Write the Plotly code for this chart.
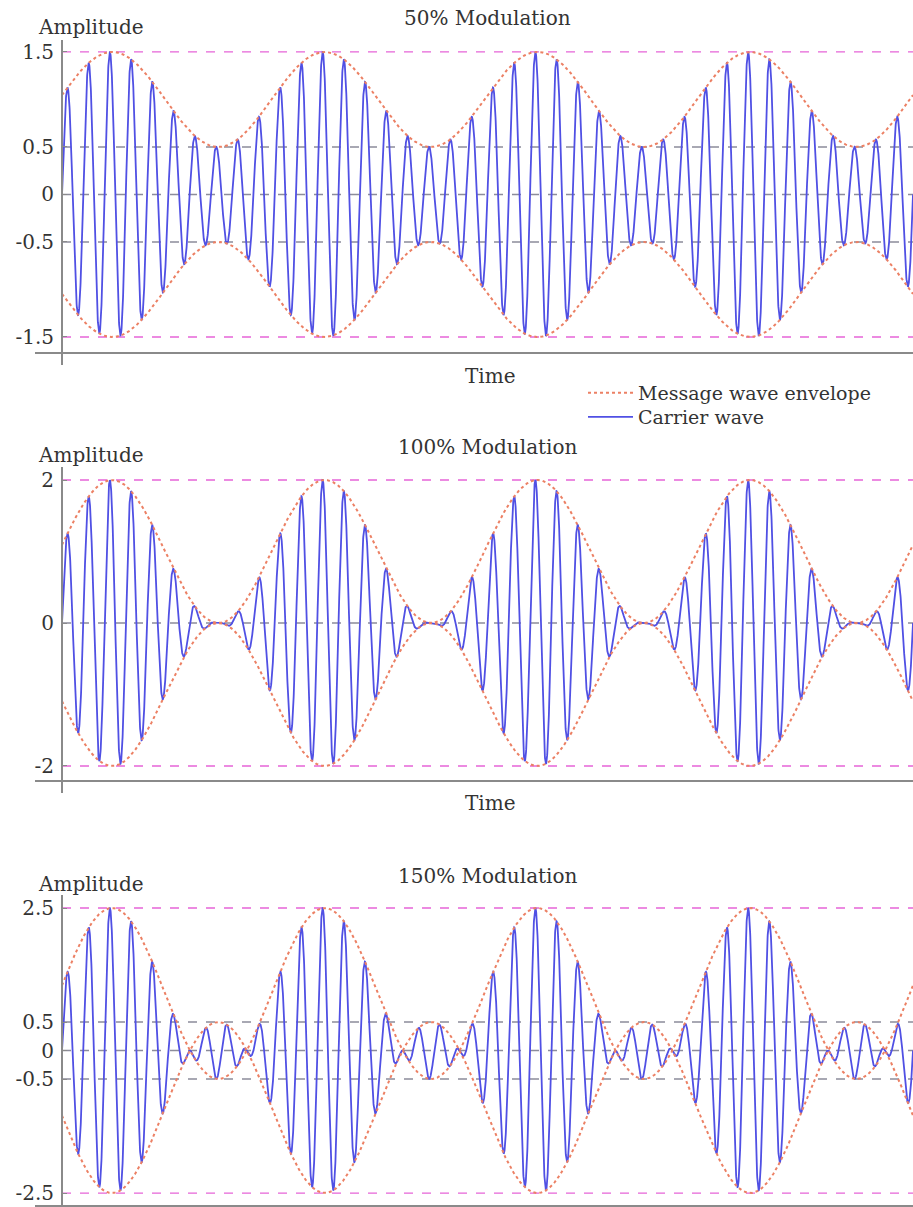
import numpy as np
import plotly.graph_objects as go

# ---- values ----
panel_titles = ["50% Modulation", "100% Modulation", "150% Modulation"]
modulation_depths = [0.5, 1.0, 1.5]          # m of each panel
carrier_cycles_per_message = 10              # carrier periods per message period
visible_carrier_cycles = 40                  # length of the time window (carrier periods)
envelope_peak_time = 2.35                    # first envelope maximum (carrier periods)
ytick_values = [
    [-1.5, -0.5, 0, 0.5, 1.5],
    [-2, 0, 2],
    [-2.5, -0.5, 0, 0.5, 2.5],
]
ytick_labels = [
    ["-1.5", "-0.5", "0", "0.5", "1.5"],
    ["-2", "0", "2"],
    ["-2.5", "-0.5", "0", "0.5", "2.5"],
]
y_ranges = [[-1.658, 1.626], [-2.196, 2.182], [-2.71, 2.728]]

# ---- layout geometry (pixels of the 913x1207 page) ----
W, H = 913, 1207
panel_px = [(40, 352), (467, 780), (895, 1205)]   # top, bottom of each plot area
title_px = [18, 447, 876]
amp_px = [27, 455, 884]
time_px = [376, 803, None]
x_axis_left_px = 35
y_axis_px = 62

def px(x):
    return x / W

def py(y):
    return 1 - y / H

FONT = "DejaVu Serif"
FS = 20
TXT = "#333333"
CARRIER = "rgb(80,80,228)"
ENVELOPE = "rgb(236,128,100)"
PINK = "rgb(230,100,215)"
GRAY = "rgb(140,140,155)"
AXIS = "#8a8a8a"

t = np.linspace(0, visible_carrier_cycles, 6000)
carrier_unit = np.sin(2 * np.pi * t)
msg_phase = 2 * np.pi * (t - envelope_peak_time) / carrier_cycles_per_message

fig = go.Figure()
layout_axes = {}
shapes = []
annotations = []

pt_per_px = visible_carrier_cycles / (W - y_axis_px)
x_range = [-(y_axis_px - x_axis_left_px) * pt_per_px, visible_carrier_cycles]

for i, m in enumerate(modulation_depths):
    n = "" if i == 0 else str(i + 1)
    xa, ya = "x" + n, "y" + n
    envelope = 1 + m * np.cos(msg_phase)
    signal = envelope * carrier_unit
    fig.add_trace(go.Scatter(
        x=t, y=signal, xaxis=xa, yaxis=ya, mode="lines",
        line=dict(color=CARRIER, width=1.8), name="Carrier wave",
        legend="legend2", showlegend=(i == 0), hoverinfo="skip"))
    fig.add_trace(go.Scatter(
        x=t, y=envelope, xaxis=xa, yaxis=ya, mode="lines",
        line=dict(color=ENVELOPE, width=2, dash="dot"), name="Message wave envelope",
        legend="legend", showlegend=(i == 0), hoverinfo="skip"))
    fig.add_trace(go.Scatter(
        x=t, y=-envelope, xaxis=xa, yaxis=ya, mode="lines",
        line=dict(color=ENVELOPE, width=2, dash="dot"), name="Message wave envelope",
        showlegend=False, hoverinfo="skip"))

    top, bot = panel_px[i]
    layout_axes["xaxis" + n] = dict(
        domain=[px(x_axis_left_px), 1], range=x_range, anchor=ya,
        showline=True, linecolor=AXIS, linewidth=2, showgrid=False,
        zeroline=False, showticklabels=False, ticks="")
    layout_axes["yaxis" + n] = dict(
        domain=[py(bot), py(top)], range=y_ranges[i], anchor="free",
        position=px(y_axis_px), showline=True, linecolor=AXIS, linewidth=2,
        showgrid=False, zeroline=False, tickvals=ytick_values[i],
        ticktext=ytick_labels[i], ticks="inside", ticklen=4, tickcolor=AXIS,
        ticklabelstandoff=3,
        tickfont=dict(family=FONT, size=FS, color=TXT))

    # reference lines at tick values (pink at the envelope extremes, gray elsewhere)
    for v in ytick_values[i]:
        col = PINK if abs(abs(v) - (1 + m)) < 1e-9 else GRAY
        shapes.append(dict(type="line", xref=xa, yref=ya, x0=t[0], x1=t[-1],
                           y0=v, y1=v, layer="below",
                           line=dict(color=col, width=1.3, dash="dash")))
    # y axis continuing a little below the x axis
    shapes.append(dict(type="line", xref="paper", yref="paper",
                       x0=px(y_axis_px), x1=px(y_axis_px),
                       y0=py(bot), y1=py(bot + 13),
                       line=dict(color=AXIS, width=2)))

    annotations.append(dict(text=panel_titles[i], xref="paper", yref="paper",
                            x=px(488), y=py(title_px[i]), showarrow=False,
                            xanchor="center", yanchor="middle",
                            font=dict(family=FONT, size=FS, color=TXT)))
    annotations.append(dict(text="Amplitude", xref="paper", yref="paper",
                            x=px(36), y=py(amp_px[i]), showarrow=False,
                            xanchor="left", yanchor="middle",
                            font=dict(family=FONT, size=FS, color=TXT)))
    if time_px[i] is not None:
        annotations.append(dict(text="Time", xref="paper", yref="paper",
                                x=px(490), y=py(time_px[i]), showarrow=False,
                                xanchor="center", yanchor="middle",
                                font=dict(family=FONT, size=FS, color=TXT)))

legend_common = dict(xanchor="left", yanchor="middle", bgcolor="rgba(0,0,0,0)",
                     itemwidth=45, font=dict(family=FONT, size=19, color=TXT))
fig.update_layout(
    width=W, height=H, margin=dict(l=0, r=0, t=0, b=0),
    paper_bgcolor="white", plot_bgcolor="white",
    shapes=shapes, annotations=annotations,
    showlegend=True,
    legend=dict(x=px(583), y=py(393), **legend_common),
    legend2=dict(x=px(583), y=py(417), **legend_common),
    **layout_axes,
)

fig.write_html("out.html", config={"displayModeBar": False},
               post_script="document.body.style.margin='0px';")
